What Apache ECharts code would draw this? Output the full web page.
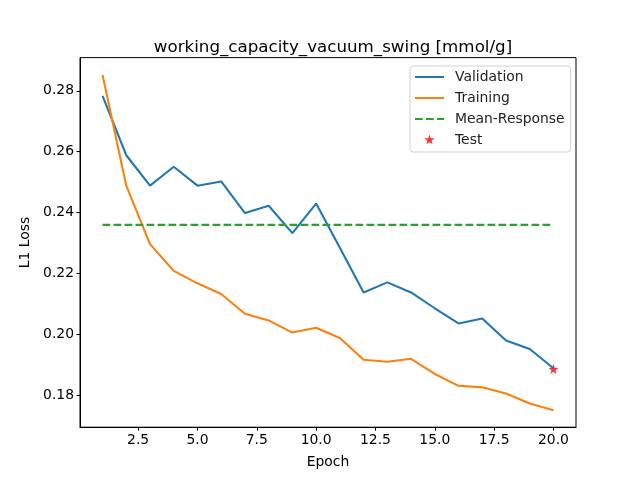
<!DOCTYPE html>
<html>
<head>
<meta charset="UTF-8" />
<script src="https://cdn.jsdelivr.net/npm/echarts@6/dist/echarts.min.js"></script>
<style>
  body { margin: 0; padding: 0; background: #fff; }
  #chart { width: 640px; height: 480px; }
</style>
</head>
<body>
<div id="chart"></div>
<script>
  const epochs = [1, 2, 3, 4, 5, 6, 7, 8, 9, 10, 11, 12, 13, 14, 15, 16, 17, 18, 19, 20];
  const validation = [0.2783, 0.2588, 0.2488, 0.2550, 0.2488, 0.2502, 0.2398, 0.2422, 0.2332, 0.2429,
                      0.2284, 0.2137, 0.2170, 0.2137, 0.2085, 0.2035, 0.2051, 0.1979, 0.1951, 0.1888];
  const training = [0.2852, 0.2488, 0.2296, 0.2208, 0.2167, 0.2132, 0.2067, 0.2045, 0.2005, 0.2021,
                    0.1987, 0.1916, 0.1909, 0.1919, 0.1869, 0.1830, 0.1825, 0.1805, 0.1772, 0.1750];
  const meanResponse = 0.2359;
  const testEpoch = 20;
  const testValue = 0.1885;
  const xTicks = [2.5, 5, 7.5, 10, 12.5, 15, 17.5, 20];
  const yTicks = [0.18, 0.20, 0.22, 0.24, 0.26, 0.28];

  const starShape = 'M0,-10 L2.35,-3.24 L9.51,-3.09 L3.8,1.24 L5.88,8.09 L0,4 L-5.88,8.09 L-3.8,1.24 L-9.51,-3.09 L-2.35,-3.24 Z';
  const star = 'path://' + starShape;
  // legend star: extra move points widen the box so the star draws smaller
  const legendStar = 'path://M-13,-13 M13,13 ' + starShape;
  const font = 'DejaVu Sans';
  const lw = 2.08;
  const hideDot = { color: 'transparent', borderWidth: 0 };

  const chart = echarts.init(document.getElementById('chart'));
  chart.setOption({
    animation: false,
    textStyle: { fontFamily: font },
    title: {
      text: 'working_capacity_vacuum_swing [mmol/g]',
      left: 328,
      textAlign: 'center',
      top: 34,
      textStyle: { fontFamily: font, fontSize: 16.7, fontWeight: 'normal', color: '#000' }
    },
    grid: {
      left: 80, right: 64, top: 57.6, bottom: 52.8,
      show: true, borderColor: '#000', borderWidth: 1, backgroundColor: '#fff'
    },
    legend: {
      orient: 'vertical',
      left: 410,
      top: 66,
      padding: [4, 6, 5, 4],
      itemWidth: 29,
      itemHeight: 14,
      itemGap: 7,
      borderColor: '#d0d0d0',
      borderWidth: 1,
      borderRadius: 3,
      textStyle: { fontFamily: font, fontSize: 13.9, color: '#222', padding: [0, 0, 0, 6] },
      data: [
        { name: 'Validation', itemStyle: hideDot },
        { name: 'Training', itemStyle: hideDot },
        { name: 'Mean-Response', itemStyle: hideDot },
        { name: 'Test', icon: legendStar, itemStyle: { color: '#ff0000' } }
      ]
    },
    xAxis: {
      type: 'value',
      min: 0.05,
      max: 20.95,
      name: 'Epoch',
      nameLocation: 'middle',
      nameGap: 28,
      nameTextStyle: { fontFamily: font, fontSize: 13.9, color: '#000', verticalAlign: 'top' },
      splitLine: { show: false },
      axisLine: { lineStyle: { color: '#000' } },
      axisTick: { length: 3.5, lineStyle: { color: '#000' }, customValues: xTicks },
      axisLabel: {
        customValues: xTicks, margin: 6, fontFamily: font, fontSize: 13.9, color: '#000',
        formatter: v => v.toFixed(1)
      }
    },
    yAxis: {
      type: 'value',
      min: 0.1694,
      max: 0.2909,
      name: 'L1 Loss',
      nameLocation: 'middle',
      nameRotate: 90,
      nameGap: 46,
      nameTextStyle: { fontFamily: font, fontSize: 13.9, color: '#000' },
      splitLine: { show: false },
      axisLine: { show: true, lineStyle: { color: '#000' } },
      axisTick: { show: true, length: 3.5, lineStyle: { color: '#000' }, customValues: yTicks },
      axisLabel: {
        customValues: yTicks, margin: 6, fontFamily: font, fontSize: 13.9, color: '#000',
        formatter: v => v.toFixed(2)
      }
    },
    series: [
      {
        name: 'Validation', type: 'line', symbol: 'none', color: '#1f77b4',
        lineStyle: { width: lw, color: '#1f77b4' },
        data: epochs.map((e, i) => [e, validation[i]])
      },
      {
        name: 'Training', type: 'line', symbol: 'none', color: '#ff7f0e',
        lineStyle: { width: lw, color: '#ff7f0e' },
        data: epochs.map((e, i) => [e, training[i]])
      },
      {
        name: 'Mean-Response', type: 'line', symbol: 'none', color: '#2ca02c',
        lineStyle: { width: lw, color: '#2ca02c', type: [7.7, 3.3] },
        data: [[epochs[0], meanResponse], [epochs[epochs.length - 1], meanResponse]]
      },
      {
        name: 'Test', type: 'scatter', symbol: star, symbolSize: 10, color: '#ff0000',
        itemStyle: { color: '#ff0000' },
        data: [[testEpoch, testValue]]
      }
    ]
  });
</script>
</body>
</html>
